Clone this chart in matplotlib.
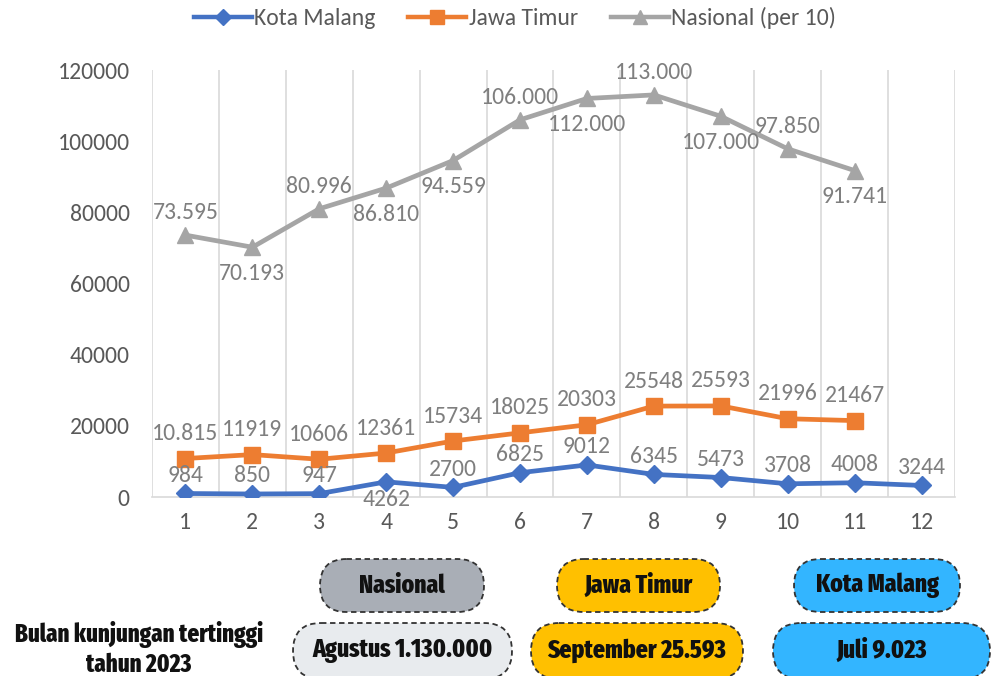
import matplotlib
matplotlib.use("Agg")
import matplotlib.pyplot as plt
from matplotlib.patches import FancyBboxPatch
from matplotlib.lines import Line2D

months = [1, 2, 3, 4, 5, 6, 7, 8, 9, 10, 11, 12]
kota_malang = [984, 850, 947, 4262, 2700, 6825, 9012, 6345, 5473, 3708, 4008, 3244]
kota_labels = ["984", "850", "947", "4262", "2700", "6825", "9012", "6345", "5473", "3708", "4008", "3244"]
kota_pos = ["a", "a", "a", "b", "a", "a", "a", "a", "a", "a", "a", "a"]
jawa_timur = [10815, 11919, 10606, 12361, 15734, 18025, 20303, 25548, 25593, 21996, 21467]
jatim_labels = ["10.815", "11919", "10606", "12361", "15734", "18025", "20303", "25548", "25593", "21996", "21467"]
nasional = [73595, 70193, 80996, 86810, 94559, 106000, 112000, 113000, 107000, 97850, 91741]
nas_labels = ["73.595", "70.193", "80.996", "86.810", "94.559", "106.000", "112.000", "113.000", "107.000", "97.850", "91.741"]
nas_pos = ["a", "b", "a", "b", "b", "a", "b", "a", "b", "a", "b"]
y_ticks = [0, 20000, 40000, 60000, 80000, 100000, 120000]

box_titles = ["Nasional", "Jawa Timur", "Kota Malang"]
box_values = ["Agustus 1.130.000", "September 25.593", "Juli 9.023"]
side_text = "Bulan kunjungan tertinggi\ntahun 2023"

C_BLUE = "#4472C4"
C_ORANGE = "#ED7D31"
C_GRAY = "#A5A5A5"
LBL = "#7F7F7F"
TICK = "#595959"
FONT = ["Carlito", "Lato", "DejaVu Sans"]
BOXFONT = ["Fira Sans Extra Condensed", "Barlow Condensed", "DejaVu Sans"]
FS = 17

W, H = 992, 676
fig = plt.figure(figsize=(W / 100, H / 100), dpi=100)
ax = fig.add_axes([152 / W, 1 - 497 / H, (955 - 152) / W, (497 - 70) / H])

ax.set_xlim(0.5, 12.5)
ax.set_ylim(0, 120000)
for xb in [m + 0.5 for m in range(0, 13)]:
    ax.axvline(xb, color="#D9D9D9", lw=1.2, zorder=0)
for s in ["top", "right", "left"]:
    ax.spines[s].set_visible(False)
ax.spines["bottom"].set_color("#D9D9D9")
ax.spines["bottom"].set_linewidth(1.2)
ax.set_xticks(months)
ax.set_xticklabels([str(m) for m in months])
ax.set_yticks(y_ticks)
ax.set_yticklabels([str(v) for v in y_ticks])
ax.tick_params(axis="both", length=0, labelsize=FS, colors=TICK)
ax.tick_params(axis="y", pad=16)
ax.tick_params(axis="x", pad=11)
for t in ax.get_xticklabels() + ax.get_yticklabels():
    t.set_fontfamily(FONT)

ax.plot(months[:len(nasional)], nasional, color=C_GRAY, lw=3.4, marker="^", ms=12, zorder=3)
ax.plot(months[:len(jawa_timur)], jawa_timur, color=C_ORANGE, lw=3.4, marker="s", ms=12, zorder=3)
ax.plot(months, kota_malang, color=C_BLUE, lw=3.4, marker="D", ms=9, zorder=4)

def labels(xs, ys, texts, pos, up, down):
    for x, y, t, p in zip(xs, ys, texts, pos):
        off = up if p == "a" else -down
        ax.annotate(t, (x, y), xytext=(0, off), textcoords="offset points",
                    ha="center", va="center", fontsize=FS, color=LBL,
                    fontfamily=FONT, zorder=5)

labels(months, nasional, nas_labels, nas_pos, 16, 19)
labels(months, jawa_timur, jatim_labels, ["a"] * len(jawa_timur), 18, 18)
labels(months, kota_malang, kota_labels, kota_pos, 13, 13)

handles = [
    Line2D([], [], color=C_BLUE, lw=3.2, marker="D", ms=8),
    Line2D([], [], color=C_ORANGE, lw=3.2, marker="s", ms=10),
    Line2D([], [], color=C_GRAY, lw=3.2, marker="^", ms=10),
]
fig.legend(handles, ["Kota Malang", "Jawa Timur", "Nasional (per 10)"],
           loc="center", bbox_to_anchor=(0.519, 1 - 18 / H), ncol=3, frameon=False,
           prop={"family": FONT, "size": 17}, labelcolor=TICK,
           handlelength=2.45, handletextpad=0.1, columnspacing=1.4)

# bottom boxes (figure pixel coordinates)
bx = fig.add_axes([0, 0, 1, 1], zorder=-1)
bx.set_xlim(0, W)
bx.set_ylim(H, 0)
bx.axis("off")

row1 = [(320, 484, "#A9AEB6"), (557, 720, "#FFC000"), (794, 960, "#33B5FF")]
row2 = [(293, 512, "#E8EBEE"), (531, 743, "#FFC000"), (773, 990, "#33B5FF")]

def box(x0, x1, y0, y1, fc, text):
    h = y1 - y0
    r = h / 2
    p = FancyBboxPatch((x0 + r, y0 + r), (x1 - x0) - 2 * r, 0.01,
                       boxstyle=f"round,pad={r - 0.01},rounding_size={r}",
                       fc=fc, ec="#333333", lw=1.3, ls=(0, (3, 2)), clip_on=False)
    bx.add_patch(p)
    bx.text((x0 + x1) / 2, (y0 + y1) / 2, text, ha="center", va="center",
            fontsize=18.5, fontweight=800, family=BOXFONT, color="#111111")

for (x0, x1, fc), t in zip(row1, box_titles):
    box(x0, x1, 559, 612, fc, t)
for (x0, x1, fc), t in zip(row2, box_values):
    box(x0, x1, 623, 679, fc, t)

bx.text(139, 649, side_text, ha="center", va="center", fontsize=18,
        fontweight=800, family=BOXFONT, color="#111111", linespacing=1.25)

fig.savefig("out.png", dpi=100)
